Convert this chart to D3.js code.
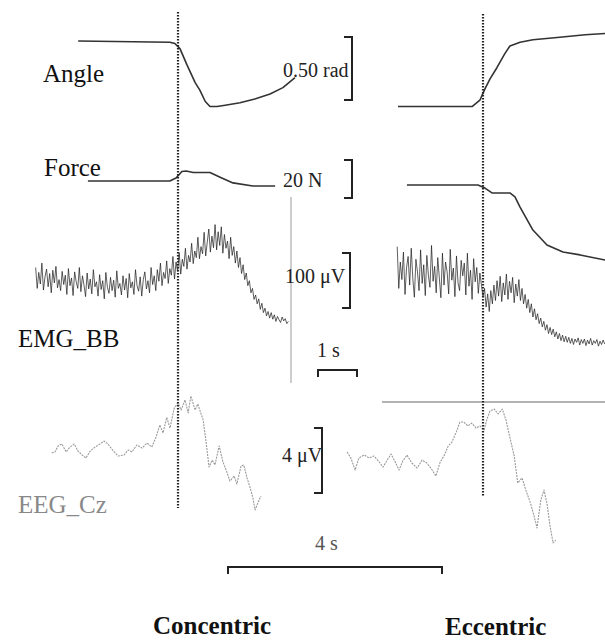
<!DOCTYPE html>
<html>
<head>
<meta charset="utf-8">
<script src="https://cdn.jsdelivr.net/npm/d3@7"></script>
<style>
  body { margin: 0; background: #ffffff; }
  svg { display: block; font-family: "Liberation Serif", "DejaVu Serif", serif; }
</style>
</head>
<body>
<div id="content"></div>
<script>
// time in s relative to movement onset (dotted line), values in trace units
var angleCon = [[-2.56, 0], [-0.21, -0.01], [-0.08, -0.02], [0.05, -0.06], [0.23, -0.19], [0.44, -0.33],
                [0.56, -0.39], [0.70, -0.48], [0.82, -0.52], [1.0, -0.52], [1.21, -0.51], [1.59, -0.49],
                [1.97, -0.46], [2.36, -0.42], [2.69, -0.37], [3.0, -0.29]];
var angleEcc = [[-2.18, -0.52], [-0.28, -0.52], [-0.08, -0.47], [0.05, -0.38], [0.18, -0.30], [0.36, -0.21],
                [0.56, -0.10], [0.69, -0.04], [0.95, -0.01], [1.28, 0.01], [1.97, 0.03], [2.62, 0.05], [3.13, 0.06]];
var forceCon = [[-2.31, 0], [-0.21, 0], [-0.05, 1.6], [0.10, 5.0], [0.21, 5.3], [0.39, 4.5], [0.82, 4.5],
                [1.08, 2.0], [1.41, -1.0], [1.92, -2.6], [2.49, -2.6]];
var forceEcc = [[-1.95, -2.1], [-0.13, -2.1], [0.05, -3.7], [0.23, -6.3], [0.69, -6.3], [0.82, -8.4],
                [0.95, -13.7], [1.28, -25.8], [1.64, -33.7], [2.05, -37.4], [2.49, -38.9], [3.13, -41.6]];

// EMG_BB samples (uV): first sample time and sample interval in s
var emgConStart = -3.65, emgEccStart = -2.2, emgStep = 0.04;
var emgCon = [150, 112, 141, 120, 158, 109, 133, 147, 115, 139,
              104, 145, 122, 152, 113, 128, 108, 143, 119, 136,
              101, 148, 117, 131, 99, 142, 124, 112, 150, 106,
              135, 118, 97, 140, 111, 129, 102, 146, 115, 124,
              98, 137, 110, 126, 93, 141, 114, 103, 132, 108,
              127, 96, 144, 112, 121, 100, 135, 109, 130, 95,
              139, 113, 124, 101, 146, 117, 107, 133, 98, 128,
              142, 111, 126, 104, 150, 119, 135, 108, 146, 125,
              158, 117, 141, 130, 162, 121, 148, 136, 170, 129,
              160, 143, 177, 138, 165, 152, 185, 147, 172, 160,
              194, 157, 180, 168, 205, 166, 188, 175, 214, 171,
              196, 220, 178, 207, 186, 228, 182, 215, 190, 224,
              176, 210, 185, 198, 166, 205, 172, 188, 158, 180,
              150, 168, 139, 155, 128, 140, 117, 126, 104, 112,
              92, 100, 84, 93, 74, 85, 68, 76, 62, 70,
              58, 68, 56, 64, 52, 61, 55, 50, 60, 53,
              57, 48, 52];
var emgEcc = [188, 112, 160, 128, 178, 101, 150, 170, 118, 185,
              130, 96, 165, 142, 108, 182, 121, 155, 99, 172,
              136, 114, 190, 125, 152, 104, 168, 131, 95, 176,
              118, 160, 142, 102, 183, 127, 149, 97, 171, 122,
              108, 163, 135, 158, 100, 176, 116, 145, 92, 166,
              124, 150, 103, 140, 118, 96, 112, 78, 102, 70,
              108, 84, 118, 90, 126, 98, 134, 88, 122, 100,
              138, 92, 125, 104, 132, 86, 120, 98, 128, 90,
              112, 84, 101, 76, 92, 68, 84, 60, 75, 55,
              66, 48, 58, 42, 52, 36, 46, 30, 41, 28,
              38, 24, 33, 20, 30, 17, 27, 15, 25, 14,
              23, 12, 21, 10, 20, 14, 22, 9, 19, 12,
              20, 8, 18, 11, 21, 9, 17, 12, 19, 7,
              16, 10, 18, 11];

// EEG_Cz (s, uV)
var eegCon = [[-2.36, -0.18], [-2.30, -0.12], [-2.24, 0.25], [-2.17, 0.37], [-2.09, -0.12], [-2.02, 0.18],
              [-1.94, 0.37], [-1.87, -0.06], [-1.79, -0.31], [-1.72, -0.49], [-1.64, -0.06], [-1.55, 0.18],
              [-1.46, 0.37], [-1.38, 0.55], [-1.31, 0.37], [-1.21, -0.06], [-1.12, -0.37], [-1.01, -0.31],
              [-0.93, 0], [-0.86, -0.12], [-0.77, 0.31], [-0.67, 0.12], [-0.58, 0.43], [-0.49, 0.18],
              [-0.41, 0.80], [-0.34, 1.54], [-0.28, 1.05], [-0.21, 2.0], [-0.15, 1.35], [-0.07, 2.58],
              [0, 2.89], [0.06, 2.46], [0.13, 3.08], [0.19, 2.28], [0.24, 3.32], [0.32, 2.46], [0.37, 2.83],
              [0.47, 1.85], [0.52, 0.62], [0.58, -1.05], [0.64, -0.62], [0.69, -0.92], [0.77, 0.25],
              [0.84, -0.74], [0.90, -1.23], [0.97, -1.91], [1.05, -1.6], [1.10, -2.09], [1.18, -0.98],
              [1.23, -0.92], [1.29, -1.72], [1.35, -2.34], [1.40, -2.95], [1.44, -3.69], [1.50, -3.2], [1.55, -2.83]];
var eegEcc = [[-2.54, -0.12], [-2.47, -0.49], [-2.39, -1.23], [-2.32, -0.49], [-2.22, -0.31], [-2.13, -0.49],
              [-2.04, -0.37], [-1.94, -0.74], [-1.87, -1.05], [-1.79, -0.62], [-1.72, -0.25], [-1.64, -0.74],
              [-1.57, -1.23], [-1.50, -0.68], [-1.42, -0.31], [-1.33, -0.8], [-1.23, -1.11], [-1.14, -0.62],
              [-1.05, -0.8], [-0.95, -1.23], [-0.88, -1.6], [-0.80, -0.74], [-0.73, -0.37], [-0.65, 0.25],
              [-0.58, 0.49], [-0.50, 1.11], [-0.43, 1.72], [-0.36, 1.72], [-0.28, 1.48], [-0.21, 1.66],
              [-0.13, 1.35], [-0.06, 1.48], [0.02, 1.23], [0.07, 1.85], [0.13, 2.4], [0.21, 2.52],
              [0.28, 2.22], [0.36, 2.52], [0.43, 1.85], [0.50, 0.8], [0.58, -0.31], [0.65, -2.03],
              [0.73, -1.72], [0.80, -2.46], [0.88, -3.2], [0.95, -4.0], [1.01, -4.8], [1.08, -3.08],
              [1.14, -2.46], [1.20, -3.38], [1.25, -4.62], [1.31, -5.72], [1.36, -5.54]];

var traceLabels = ["Angle", "Force", "EMG_BB", "EEG_Cz"];
var scaleLabels = ["0.50 rad", "20 N", "100 \u03bcV", "4 \u03bcV"];
var scaleValues = [0.5, 20, 100, 4];
var timeLabels = ["1 s", "4 s"];
var timeValues = [1, 4];
var conditions = ["Concentric", "Eccentric"];

var svg = d3.select("#content").append("svg")
    .attr("width", 605)
    .attr("height", 642)
    .style("background", "#ffffff");

var onsets = [178, 483];
var pxTop = 39, pxEeg = 53.5;

var angleY = d3.scaleLinear().domain([0, -0.5]).range([41, 104]);
var forceY = d3.scaleLinear().domain([0, -20]).range([181, 219]);
var emgY = d3.scaleLinear().domain([0, 100]).range([350, 295]);
var eegY = d3.scaleLinear().domain([0, -4]).range([450, 515]);

function topX(i){ return d3.scaleLinear().domain([0, 1]).range([onsets[i], onsets[i] + pxTop]); }
function eegX(i){ return d3.scaleLinear().domain([0, 1]).range([onsets[i], onsets[i] + pxEeg]); }

function drawTrace(data, x, y, stroke, width, dash){
    var line = d3.line().x(function(d){ return x(d[0]); }).y(function(d){ return y(d[1]); });
    svg.append("path")
        .attr("d", line(data))
        .attr("fill", "none")
        .attr("stroke", stroke)
        .attr("stroke-width", width)
        .attr("stroke-linejoin", "round")
        .attr("stroke-dasharray", dash || null);
}

function samples(vals, start){
    return vals.map(function(v, i){ return [start + i * emgStep, v]; });
}

//stray axis lines from the original figure
svg.append("path").attr("d", "M291,197 L291,383")
    .attr("stroke", "#bdbdbd").attr("stroke-width", 1.5);
svg.append("path").attr("d", "M382,402 L605,402")
    .attr("stroke", "#666666").attr("stroke-width", 1);

//Traces
drawTrace(angleCon, topX(0), angleY, "#333333", 1.6);
drawTrace(angleEcc, topX(1), angleY, "#333333", 1.6);
drawTrace(forceCon, topX(0), forceY, "#333333", 1.6);
drawTrace(forceEcc, topX(1), forceY, "#333333", 1.6);
drawTrace(samples(emgCon, emgConStart), topX(0), emgY, "#1a1a1a", 0.7);
drawTrace(samples(emgEcc, emgEccStart), topX(1), emgY, "#1a1a1a", 0.7);
drawTrace(eegCon, eegX(0), eegY, "#9a9a9a", 1.1, "2,1");
drawTrace(eegEcc, eegX(1), eegY, "#9a9a9a", 1.1, "2,1");

//Onset markers
svg.append("path").attr("d", "M" + onsets[0] + ",12 L" + onsets[0] + ",508")
    .attr("stroke", "#222222").attr("stroke-width", 2.2).attr("stroke-dasharray", "1.5,1.5");
svg.append("path").attr("d", "M" + onsets[1] + ",14 L" + onsets[1] + ",496")
    .attr("stroke", "#222222").attr("stroke-width", 2.2).attr("stroke-dasharray", "1.5,1.5");

//Trace names
var namePos = [[43, 82], [44, 176], [18, 347], [18, 513]];
var nameCol = ["#111111", "#111111", "#111111", "#888888"];
for(var i = 0; i < traceLabels.length; i++){
    svg.append("text")
        .text(traceLabels[i])
        .attr("x", namePos[i][0])
        .attr("y", namePos[i][1])
        .attr("font-size", 25)
        .attr("fill", nameCol[i]);
}

//Amplitude scale brackets
var yScales = [angleY, forceY, emgY, eegY];
var bracketX = [352, 352, 350, 322];
var bracketTop = [37, 160, 253, 428];
var labelPos = [[283, 77], [283, 187], [285, 283], [282, 462]];
for(var i = 0; i < scaleLabels.length; i++){
    var ys = yScales[i];
    var len = Math.abs(ys(scaleValues[i]) - ys(0));
    var by = bracketTop[i], bx = bracketX[i];
    svg.append("path")
        .attr("d", "M" + (bx - 8) + "," + by + " L" + bx + "," + by + " L" + bx + "," + (by + len) + " L" + (bx - 8) + "," + (by + len))
        .attr("stroke", "#222222")
        .attr("stroke-width", 2)
        .attr("fill", "none");
    svg.append("text")
        .text(scaleLabels[i])
        .attr("x", labelPos[i][0])
        .attr("y", labelPos[i][1])
        .attr("font-size", 20)
        .attr("fill", "#222222");
}

//Time scale bars
var timeX = [topX(0), eegX(0)];
var barStart = [318, 228];
var barY = [370, 567];
var timeText = [[317, 357, "#222222"], [315, 550, "#555555"]];
for(var i = 0; i < timeLabels.length; i++){
    var w = timeX[i](timeValues[i]) - timeX[i](0);
    var x0 = barStart[i], y0 = barY[i];
    svg.append("path")
        .attr("d", "M" + x0 + "," + (y0 + 7) + " L" + x0 + "," + y0 + " L" + (x0 + w) + "," + y0 + " L" + (x0 + w) + "," + (y0 + 7))
        .attr("stroke", "#222222")
        .attr("stroke-width", 2)
        .attr("fill", "none");
    svg.append("text")
        .text(timeLabels[i])
        .attr("x", timeText[i][0])
        .attr("y", timeText[i][1])
        .attr("font-size", 20)
        .attr("fill", timeText[i][2]);
}

//Condition captions
var condPos = [[153, 634], [445, 635]];
for(var i = 0; i < conditions.length; i++){
    svg.append("text")
        .text(conditions[i])
        .attr("x", condPos[i][0])
        .attr("y", condPos[i][1])
        .attr("font-size", 25)
        .attr("font-weight", "bold")
        .attr("fill", "#111111");
}
</script>
</body>
</html>
